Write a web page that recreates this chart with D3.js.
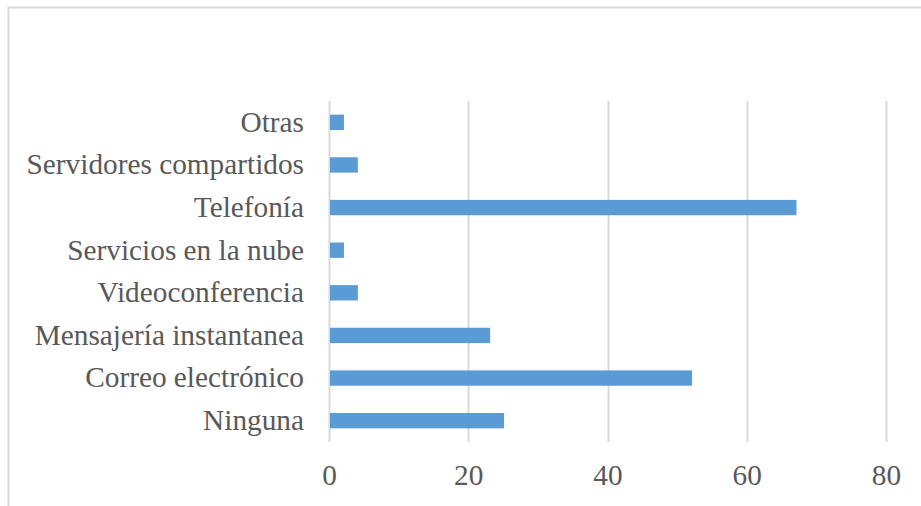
<!DOCTYPE html>
<html>
<head>
<meta charset="utf-8">
<script src="https://cdn.jsdelivr.net/npm/d3@7"></script>
<style>
  html, body { margin: 0; padding: 0; background: #fff; }
  svg { display: block; }
</style>
</head>
<body>
<svg id="chart" width="921" height="506"></svg>
<script>
// Categories (top to bottom) and their counts
const categories = [
  "Otras",
  "Servidores compartidos",
  "Telefonía",
  "Servicios en la nube",
  "Videoconferencia",
  "Mensajería instantanea",
  "Correo electrónico",
  "Ninguna"
];
const values = [2, 4, 67, 2, 4, 23, 52, 25];
const xTicks = [0, 20, 40, 60, 80];

const svg = d3.select("#chart");
const W = 921, H = 506;
const margin = { left: 329, right: 35, top: 101, bottom: 64 };
const fontFamily = "'Liberation Serif', 'Times New Roman', serif";
const fontSize = 29.3;

// Chart frame (only top and left edges fall inside the view)
svg.append("rect")
  .attr("x", 8.5).attr("y", 7.5)
  .attr("width", W + 20).attr("height", H + 20)
  .attr("fill", "#fff")
  .attr("stroke", "#d9d9d9").attr("stroke-width", 2);

const x = d3.scaleLinear().domain([0, 80]).range([margin.left, W - margin.right]);
const y = d3.scaleBand().domain(categories)
  .range([margin.top, H - margin.bottom])
  .paddingInner(0.64).paddingOuter(0.32);

// Vertical gridlines
svg.append("g")
  .selectAll("line")
  .data(xTicks)
  .join("line")
  .attr("x1", d => Math.round(x(d)) + 0.5)
  .attr("x2", d => Math.round(x(d)) + 0.5)
  .attr("y1", margin.top)
  .attr("y2", H - margin.bottom)
  .attr("stroke", "#d9d9d9")
  .attr("stroke-width", 2);

// Bars
svg.append("g")
  .selectAll("rect")
  .data(values)
  .join("rect")
  .attr("x", x(0) + 1)
  .attr("y", (d, i) => y(categories[i]))
  .attr("width", d => x(d) - x(0))
  .attr("height", y.bandwidth())
  .attr("fill", "#5b9bd5");

// Category labels
const yAxis = d3.axisLeft(y).tickSize(0).tickPadding(25);
const gy = svg.append("g")
  .attr("transform", `translate(${margin.left},0)`)
  .call(yAxis);
gy.select(".domain").remove();
gy.selectAll("text")
  .attr("font-family", fontFamily)
  .attr("font-size", fontSize)
  .attr("fill", "#595959");

// Value axis labels
const xAxis = d3.axisBottom(x).tickValues(xTicks).tickSize(0).tickPadding(22);
const gx = svg.append("g")
  .attr("transform", `translate(0,${H - margin.bottom})`)
  .call(xAxis);
gx.select(".domain").remove();
gx.selectAll("text")
  .attr("font-family", fontFamily)
  .attr("font-size", fontSize)
  .attr("fill", "#595959");
</script>
</body>
</html>
